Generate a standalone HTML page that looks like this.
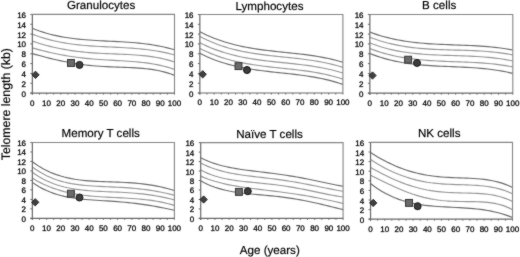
<!DOCTYPE html>
<html><head><meta charset="utf-8"><style>
html,body{margin:0;padding:0;background:#fff;width:520px;height:257px;overflow:hidden}
#w{width:520px;height:257px}
svg{display:block;text-rendering:geometricPrecision;font-family:"Liberation Sans",sans-serif;fill:#111}
text{fill:#000;stroke:rgba(0,0,0,0.6);stroke-width:0.3px;paint-order:stroke}
.t{stroke-width:0.45px}
</style></head><body>
<div id="w"><svg width="520" height="257" viewBox="0 0 520 257">
<defs><filter id="f" x="0" y="0" width="520" height="257" filterUnits="userSpaceOnUse"><feConvolveMatrix order="3" kernelMatrix="1 2 1 2 24 2 1 2 1" divisor="36" edgeMode="duplicate"/></filter></defs>
<rect width="520" height="257" fill="#fff"/><g filter="url(#f)">
<path d="M32.35,28.29 L35.90,29.70 L39.46,30.99 L43.01,32.16 L46.57,33.23 L50.12,34.21 L53.67,35.09 L57.23,35.88 L60.78,36.59 L64.33,37.22 L67.89,37.79 L71.44,38.29 L75.00,38.74 L78.55,39.13 L82.10,39.48 L85.66,39.78 L89.21,40.05 L92.76,40.29 L96.32,40.51 L99.87,40.70 L103.43,40.88 L106.98,41.06 L110.53,41.23 L114.09,41.41 L117.64,41.59 L121.19,41.79 L124.75,42.00 L128.30,42.24 L131.85,42.50 L135.41,42.80 L138.96,43.14 L142.52,43.52 L146.07,43.95 L149.62,44.44 L153.18,44.98 L156.73,45.59 L160.28,46.26 L163.84,47.01 L167.39,47.83 L170.95,48.74 L174.50,49.74" fill="none" stroke="#6a6a6a" stroke-width="1.15"/>
<path d="M32.35,34.14 L35.90,35.49 L39.46,36.73 L43.01,37.87 L46.57,38.92 L50.12,39.88 L53.67,40.75 L57.23,41.54 L60.78,42.26 L64.33,42.90 L67.89,43.48 L71.44,43.99 L75.00,44.45 L78.55,44.86 L82.10,45.22 L85.66,45.54 L89.21,45.82 L92.76,46.07 L96.32,46.30 L99.87,46.50 L103.43,46.69 L106.98,46.86 L110.53,47.03 L114.09,47.19 L117.64,47.36 L121.19,47.54 L124.75,47.74 L128.30,47.95 L131.85,48.19 L135.41,48.46 L138.96,48.76 L142.52,49.11 L146.07,49.50 L149.62,49.95 L153.18,50.45 L156.73,51.01 L160.28,51.65 L163.84,52.36 L167.39,53.15 L170.95,54.02 L174.50,54.99" fill="none" stroke="#959595" stroke-width="1.15"/>
<path d="M32.35,41.13 L35.90,42.31 L39.46,43.43 L43.01,44.48 L46.57,45.47 L50.12,46.39 L53.67,47.24 L57.23,48.03 L60.78,48.75 L64.33,49.42 L67.89,50.03 L71.44,50.57 L75.00,51.07 L78.55,51.51 L82.10,51.91 L85.66,52.26 L89.21,52.56 L92.76,52.83 L96.32,53.07 L99.87,53.28 L103.43,53.47 L106.98,53.63 L110.53,53.78 L114.09,53.93 L117.64,54.07 L121.19,54.22 L124.75,54.37 L128.30,54.55 L131.85,54.75 L135.41,54.98 L138.96,55.25 L142.52,55.56 L146.07,55.94 L149.62,56.38 L153.18,56.89 L156.73,57.48 L160.28,58.16 L163.84,58.94 L167.39,59.84 L170.95,60.85 L174.50,62.00" fill="none" stroke="#959595" stroke-width="1.15"/>
<path d="M32.35,47.83 L35.90,48.86 L39.46,49.85 L43.01,50.79 L46.57,51.68 L50.12,52.52 L53.67,53.31 L57.23,54.05 L60.78,54.75 L64.33,55.39 L67.89,55.99 L71.44,56.54 L75.00,57.04 L78.55,57.50 L82.10,57.92 L85.66,58.31 L89.21,58.65 L92.76,58.97 L96.32,59.25 L99.87,59.51 L103.43,59.75 L106.98,59.97 L110.53,60.18 L114.09,60.39 L117.64,60.59 L121.19,60.80 L124.75,61.01 L128.30,61.25 L131.85,61.51 L135.41,61.80 L138.96,62.13 L142.52,62.50 L146.07,62.93 L149.62,63.42 L153.18,63.98 L156.73,64.62 L160.28,65.36 L163.84,66.19 L167.39,67.13 L170.95,68.19 L174.50,69.38" fill="none" stroke="#959595" stroke-width="1.15"/>
<path d="M32.35,53.62 L35.90,54.60 L39.46,55.57 L43.01,56.52 L46.57,57.45 L50.12,58.35 L53.67,59.21 L57.23,60.04 L60.78,60.82 L64.33,61.56 L67.89,62.25 L71.44,62.90 L75.00,63.49 L78.55,64.03 L82.10,64.52 L85.66,64.96 L89.21,65.35 L92.76,65.70 L96.32,66.00 L99.87,66.26 L103.43,66.48 L106.98,66.68 L110.53,66.85 L114.09,67.00 L117.64,67.13 L121.19,67.26 L124.75,67.39 L128.30,67.53 L131.85,67.69 L135.41,67.88 L138.96,68.11 L142.52,68.39 L146.07,68.73 L149.62,69.14 L153.18,69.65 L156.73,70.26 L160.28,70.98 L163.84,71.83 L167.39,72.83 L170.95,74.00 L174.50,75.34" fill="none" stroke="#6a6a6a" stroke-width="1.15"/>
<path d="M32.35,14.4 H174.5 V93.1" fill="none" stroke="#858585" stroke-width="1.1"/>
<path d="M32.35,14.4 V94.6 M30.35,93.1 H174.5" fill="none" stroke="#686868" stroke-width="1.2"/>
<path d="M30.35,93.10 H32.35 M30.35,83.26 H32.35 M30.35,73.42 H32.35 M30.35,63.59 H32.35 M30.35,53.75 H32.35 M30.35,43.91 H32.35 M30.35,34.08 H32.35 M30.35,24.24 H32.35 M30.35,14.40 H32.35 M32.35,93.1 V94.6 M39.46,93.1 V94.6 M46.56,93.1 V94.6 M53.67,93.1 V94.6 M60.78,93.1 V94.6 M67.89,93.1 V94.6 M75.00,93.1 V94.6 M82.10,93.1 V94.6 M89.21,93.1 V94.6 M96.32,93.1 V94.6 M103.43,93.1 V94.6 M110.53,93.1 V94.6 M117.64,93.1 V94.6 M124.75,93.1 V94.6 M131.86,93.1 V94.6 M138.96,93.1 V94.6 M146.07,93.1 V94.6 M153.18,93.1 V94.6 M160.29,93.1 V94.6 M167.39,93.1 V94.6 M174.50,93.1 V94.6" fill="none" stroke="#686868" stroke-width="1"/>
<text x="26.05" y="96.60" class="t" text-anchor="end" font-size="8.0">0</text>
<text x="26.05" y="86.76" class="t" text-anchor="end" font-size="8.0">2</text>
<text x="26.05" y="76.92" class="t" text-anchor="end" font-size="8.0">4</text>
<text x="26.05" y="67.09" class="t" text-anchor="end" font-size="8.0">6</text>
<text x="26.05" y="57.25" class="t" text-anchor="end" font-size="8.0">8</text>
<text x="26.05" y="47.41" class="t" text-anchor="end" font-size="8.0">10</text>
<text x="26.05" y="37.58" class="t" text-anchor="end" font-size="8.0">12</text>
<text x="26.05" y="27.74" class="t" text-anchor="end" font-size="8.0">14</text>
<text x="26.05" y="17.90" class="t" text-anchor="end" font-size="8.0">16</text>
<text x="32.35" y="105.50" class="t" text-anchor="middle" font-size="8.0">0</text>
<text x="46.56" y="105.50" class="t" text-anchor="middle" font-size="8.0">10</text>
<text x="60.78" y="105.50" class="t" text-anchor="middle" font-size="8.0">20</text>
<text x="75.00" y="105.50" class="t" text-anchor="middle" font-size="8.0">30</text>
<text x="89.21" y="105.50" class="t" text-anchor="middle" font-size="8.0">40</text>
<text x="103.43" y="105.50" class="t" text-anchor="middle" font-size="8.0">50</text>
<text x="117.64" y="105.50" class="t" text-anchor="middle" font-size="8.0">60</text>
<text x="131.86" y="105.50" class="t" text-anchor="middle" font-size="8.0">70</text>
<text x="146.07" y="105.50" class="t" text-anchor="middle" font-size="8.0">80</text>
<text x="160.29" y="105.50" class="t" text-anchor="middle" font-size="8.0">90</text>
<text x="174.50" y="105.50" class="t" text-anchor="middle" font-size="8.0">100</text>
<text x="101.10" y="9.40" text-anchor="middle" font-size="11.6">Granulocytes</text>
<path d="M31.9,74.8 L35.5,71.2 L39.1,74.8 L35.5,78.39999999999999Z" fill="#404040" stroke="#1a1a1a" stroke-width="1"/>
<rect x="67.55" y="59.55" width="6.9" height="6.9" fill="#6a6a6a" stroke="#333" stroke-width="1"/>
<circle cx="79.5" cy="64.9" r="3.5" fill="#3c3c3c" stroke="#151515" stroke-width="1"/>
<path d="M199.85,31.67 L203.43,33.48 L207.00,35.17 L210.58,36.75 L214.16,38.21 L217.73,39.57 L221.31,40.82 L224.88,41.99 L228.46,43.06 L232.04,44.05 L235.61,44.96 L239.19,45.80 L242.76,46.57 L246.34,47.27 L249.92,47.92 L253.49,48.52 L257.07,49.07 L260.65,49.58 L264.22,50.06 L267.80,50.50 L271.38,50.92 L274.95,51.32 L278.53,51.71 L282.10,52.08 L285.68,52.45 L289.26,52.83 L292.83,53.21 L296.41,53.60 L299.98,54.01 L303.56,54.44 L307.14,54.90 L310.71,55.40 L314.29,55.93 L317.87,56.51 L321.44,57.13 L325.02,57.82 L328.59,58.56 L332.17,59.37 L335.75,60.25 L339.32,61.20 L342.90,62.24" fill="none" stroke="#6a6a6a" stroke-width="1.15"/>
<path d="M199.85,36.42 L203.43,38.26 L207.00,39.98 L210.58,41.57 L214.16,43.05 L217.73,44.42 L221.31,45.69 L224.88,46.86 L228.46,47.94 L232.04,48.93 L235.61,49.84 L239.19,50.68 L242.76,51.44 L246.34,52.15 L249.92,52.79 L253.49,53.38 L257.07,53.93 L260.65,54.43 L264.22,54.89 L267.80,55.33 L271.38,55.74 L274.95,56.13 L278.53,56.51 L282.10,56.88 L285.68,57.25 L289.26,57.62 L292.83,58.00 L296.41,58.39 L299.98,58.80 L303.56,59.24 L307.14,59.71 L310.71,60.21 L314.29,60.76 L317.87,61.36 L321.44,62.01 L325.02,62.72 L328.59,63.49 L332.17,64.33 L335.75,65.25 L339.32,66.25 L342.90,67.33" fill="none" stroke="#959595" stroke-width="1.15"/>
<path d="M199.85,42.73 L203.43,44.49 L207.00,46.14 L210.58,47.67 L214.16,49.09 L217.73,50.41 L221.31,51.63 L224.88,52.76 L228.46,53.80 L232.04,54.76 L235.61,55.64 L239.19,56.45 L242.76,57.20 L246.34,57.88 L249.92,58.51 L253.49,59.09 L257.07,59.62 L260.65,60.12 L264.22,60.58 L267.80,61.01 L271.38,61.42 L274.95,61.81 L278.53,62.19 L282.10,62.56 L285.68,62.94 L289.26,63.31 L292.83,63.69 L296.41,64.09 L299.98,64.51 L303.56,64.95 L307.14,65.43 L310.71,65.94 L314.29,66.49 L317.87,67.09 L321.44,67.73 L325.02,68.44 L328.59,69.21 L332.17,70.05 L335.75,70.96 L339.32,71.95 L342.90,73.02" fill="none" stroke="#959595" stroke-width="1.15"/>
<path d="M199.85,48.40 L203.43,50.18 L207.00,51.83 L210.58,53.37 L214.16,54.80 L217.73,56.12 L221.31,57.35 L224.88,58.48 L228.46,59.52 L232.04,60.47 L235.61,61.35 L239.19,62.15 L242.76,62.89 L246.34,63.57 L249.92,64.19 L253.49,64.77 L257.07,65.29 L260.65,65.78 L264.22,66.24 L267.80,66.67 L271.38,67.07 L274.95,67.46 L278.53,67.84 L282.10,68.22 L285.68,68.59 L289.26,68.97 L292.83,69.36 L296.41,69.77 L299.98,70.20 L303.56,70.66 L307.14,71.15 L310.71,71.68 L314.29,72.26 L317.87,72.89 L321.44,73.57 L325.02,74.31 L328.59,75.13 L332.17,76.01 L335.75,76.97 L339.32,78.02 L342.90,79.16" fill="none" stroke="#959595" stroke-width="1.15"/>
<path d="M199.85,53.33 L203.43,55.10 L207.00,56.74 L210.58,58.26 L214.16,59.68 L217.73,60.98 L221.31,62.19 L224.88,63.31 L228.46,64.34 L232.04,65.28 L235.61,66.15 L239.19,66.95 L242.76,67.68 L246.34,68.35 L249.92,68.97 L253.49,69.54 L257.07,70.06 L260.65,70.55 L264.22,71.01 L267.80,71.44 L271.38,71.85 L274.95,72.24 L278.53,72.62 L282.10,73.00 L285.68,73.39 L289.26,73.78 L292.83,74.18 L296.41,74.60 L299.98,75.05 L303.56,75.53 L307.14,76.04 L310.71,76.59 L314.29,77.19 L317.87,77.84 L321.44,78.55 L325.02,79.33 L328.59,80.17 L332.17,81.09 L335.75,82.09 L339.32,83.18 L342.90,84.35" fill="none" stroke="#6a6a6a" stroke-width="1.15"/>
<path d="M199.85,14.5 H342.9 V93.0" fill="none" stroke="#858585" stroke-width="1.1"/>
<path d="M199.85,14.5 V94.5 M197.85,93.0 H342.9" fill="none" stroke="#686868" stroke-width="1.2"/>
<path d="M197.85,93.00 H199.85 M197.85,83.19 H199.85 M197.85,73.38 H199.85 M197.85,63.56 H199.85 M197.85,53.75 H199.85 M197.85,43.94 H199.85 M197.85,34.12 H199.85 M197.85,24.31 H199.85 M197.85,14.50 H199.85 M199.85,93.0 V94.5 M207.00,93.0 V94.5 M214.16,93.0 V94.5 M221.31,93.0 V94.5 M228.46,93.0 V94.5 M235.61,93.0 V94.5 M242.76,93.0 V94.5 M249.92,93.0 V94.5 M257.07,93.0 V94.5 M264.22,93.0 V94.5 M271.38,93.0 V94.5 M278.53,93.0 V94.5 M285.68,93.0 V94.5 M292.83,93.0 V94.5 M299.99,93.0 V94.5 M307.14,93.0 V94.5 M314.29,93.0 V94.5 M321.44,93.0 V94.5 M328.59,93.0 V94.5 M335.75,93.0 V94.5 M342.90,93.0 V94.5" fill="none" stroke="#686868" stroke-width="1"/>
<text x="193.55" y="96.50" class="t" text-anchor="end" font-size="8.0">0</text>
<text x="193.55" y="86.69" class="t" text-anchor="end" font-size="8.0">2</text>
<text x="193.55" y="76.88" class="t" text-anchor="end" font-size="8.0">4</text>
<text x="193.55" y="67.06" class="t" text-anchor="end" font-size="8.0">6</text>
<text x="193.55" y="57.25" class="t" text-anchor="end" font-size="8.0">8</text>
<text x="193.55" y="47.44" class="t" text-anchor="end" font-size="8.0">10</text>
<text x="193.55" y="37.62" class="t" text-anchor="end" font-size="8.0">12</text>
<text x="193.55" y="27.81" class="t" text-anchor="end" font-size="8.0">14</text>
<text x="193.55" y="18.00" class="t" text-anchor="end" font-size="8.0">16</text>
<text x="199.85" y="105.40" class="t" text-anchor="middle" font-size="8.0">0</text>
<text x="214.16" y="105.40" class="t" text-anchor="middle" font-size="8.0">10</text>
<text x="228.46" y="105.40" class="t" text-anchor="middle" font-size="8.0">20</text>
<text x="242.76" y="105.40" class="t" text-anchor="middle" font-size="8.0">30</text>
<text x="257.07" y="105.40" class="t" text-anchor="middle" font-size="8.0">40</text>
<text x="271.38" y="105.40" class="t" text-anchor="middle" font-size="8.0">50</text>
<text x="285.68" y="105.40" class="t" text-anchor="middle" font-size="8.0">60</text>
<text x="299.99" y="105.40" class="t" text-anchor="middle" font-size="8.0">70</text>
<text x="314.29" y="105.40" class="t" text-anchor="middle" font-size="8.0">80</text>
<text x="328.59" y="105.40" class="t" text-anchor="middle" font-size="8.0">90</text>
<text x="342.90" y="105.40" class="t" text-anchor="middle" font-size="8.0">100</text>
<text x="269.50" y="9.50" text-anchor="middle" font-size="11.6">Lymphocytes</text>
<path d="M199.1,74.3 L202.7,70.7 L206.29999999999998,74.3 L202.7,77.89999999999999Z" fill="#404040" stroke="#1a1a1a" stroke-width="1"/>
<rect x="235.05" y="62.65" width="6.9" height="6.9" fill="#6a6a6a" stroke="#333" stroke-width="1"/>
<circle cx="247" cy="70" r="3.5" fill="#3c3c3c" stroke="#151515" stroke-width="1"/>
<path d="M369.85,32.08 L373.42,33.39 L377.00,34.60 L380.57,35.72 L384.15,36.74 L387.72,37.68 L391.29,38.54 L394.87,39.32 L398.44,40.03 L402.01,40.67 L405.59,41.24 L409.16,41.75 L412.74,42.21 L416.31,42.62 L419.88,42.98 L423.46,43.30 L427.03,43.58 L430.60,43.82 L434.18,44.04 L437.75,44.23 L441.32,44.40 L444.90,44.55 L448.47,44.69 L452.05,44.82 L455.62,44.95 L459.19,45.08 L462.77,45.21 L466.34,45.35 L469.91,45.51 L473.49,45.68 L477.06,45.88 L480.64,46.10 L484.21,46.36 L487.78,46.65 L491.36,46.98 L494.93,47.35 L498.50,47.77 L502.08,48.24 L505.65,48.78 L509.23,49.37 L512.80,50.02" fill="none" stroke="#6a6a6a" stroke-width="1.15"/>
<path d="M369.85,37.17 L373.42,38.54 L377.00,39.80 L380.57,40.96 L384.15,42.02 L387.72,42.99 L391.29,43.87 L394.87,44.67 L398.44,45.39 L402.01,46.04 L405.59,46.62 L409.16,47.13 L412.74,47.59 L416.31,47.99 L419.88,48.34 L423.46,48.64 L427.03,48.90 L430.60,49.13 L434.18,49.32 L437.75,49.49 L441.32,49.63 L444.90,49.76 L448.47,49.87 L452.05,49.98 L455.62,50.07 L459.19,50.17 L462.77,50.28 L466.34,50.39 L469.91,50.52 L473.49,50.67 L477.06,50.84 L480.64,51.05 L484.21,51.28 L487.78,51.55 L491.36,51.86 L494.93,52.22 L498.50,52.63 L502.08,53.10 L505.65,53.63 L509.23,54.22 L512.80,54.89" fill="none" stroke="#959595" stroke-width="1.15"/>
<path d="M369.85,42.97 L373.42,44.32 L377.00,45.57 L380.57,46.71 L384.15,47.76 L387.72,48.71 L391.29,49.58 L394.87,50.37 L398.44,51.07 L402.01,51.70 L405.59,52.27 L409.16,52.77 L412.74,53.21 L416.31,53.60 L419.88,53.94 L423.46,54.23 L427.03,54.48 L430.60,54.70 L434.18,54.89 L437.75,55.05 L441.32,55.20 L444.90,55.32 L448.47,55.44 L452.05,55.54 L455.62,55.65 L459.19,55.76 L462.77,55.88 L466.34,56.00 L469.91,56.15 L473.49,56.32 L477.06,56.52 L480.64,56.74 L484.21,57.01 L487.78,57.31 L491.36,57.66 L494.93,58.06 L498.50,58.52 L502.08,59.03 L505.65,59.62 L509.23,60.27 L512.80,60.99" fill="none" stroke="#959595" stroke-width="1.15"/>
<path d="M369.85,48.58 L373.42,49.91 L377.00,51.15 L380.57,52.29 L384.15,53.33 L387.72,54.29 L391.29,55.17 L394.87,55.96 L398.44,56.69 L402.01,57.34 L405.59,57.92 L409.16,58.45 L412.74,58.92 L416.31,59.34 L419.88,59.70 L423.46,60.03 L427.03,60.32 L430.60,60.57 L434.18,60.79 L437.75,60.98 L441.32,61.16 L444.90,61.31 L448.47,61.46 L452.05,61.59 L455.62,61.73 L459.19,61.86 L462.77,62.00 L466.34,62.14 L469.91,62.30 L473.49,62.48 L477.06,62.68 L480.64,62.91 L484.21,63.17 L487.78,63.47 L491.36,63.80 L494.93,64.18 L498.50,64.61 L502.08,65.10 L505.65,65.64 L509.23,66.24 L512.80,66.91" fill="none" stroke="#959595" stroke-width="1.15"/>
<path d="M369.85,53.48 L373.42,54.86 L377.00,56.14 L380.57,57.31 L384.15,58.39 L387.72,59.37 L391.29,60.26 L394.87,61.07 L398.44,61.80 L402.01,62.46 L405.59,63.04 L409.16,63.57 L412.74,64.03 L416.31,64.44 L419.88,64.81 L423.46,65.12 L427.03,65.40 L430.60,65.65 L434.18,65.87 L437.75,66.06 L441.32,66.23 L444.90,66.40 L448.47,66.55 L452.05,66.69 L455.62,66.84 L459.19,67.00 L462.77,67.16 L466.34,67.34 L469.91,67.55 L473.49,67.77 L477.06,68.03 L480.64,68.33 L484.21,68.66 L487.78,69.04 L491.36,69.48 L494.93,69.96 L498.50,70.51 L502.08,71.13 L505.65,71.81 L509.23,72.57 L512.80,73.41" fill="none" stroke="#6a6a6a" stroke-width="1.15"/>
<path d="M369.85,14.45 H512.8 V93.15" fill="none" stroke="#858585" stroke-width="1.1"/>
<path d="M369.85,14.45 V94.65 M367.85,93.15 H512.8" fill="none" stroke="#686868" stroke-width="1.2"/>
<path d="M367.85,93.15 H369.85 M367.85,83.31 H369.85 M367.85,73.48 H369.85 M367.85,63.64 H369.85 M367.85,53.80 H369.85 M367.85,43.96 H369.85 M367.85,34.12 H369.85 M367.85,24.29 H369.85 M367.85,14.45 H369.85 M369.85,93.15 V94.65 M377.00,93.15 V94.65 M384.15,93.15 V94.65 M391.29,93.15 V94.65 M398.44,93.15 V94.65 M405.59,93.15 V94.65 M412.74,93.15 V94.65 M419.88,93.15 V94.65 M427.03,93.15 V94.65 M434.18,93.15 V94.65 M441.32,93.15 V94.65 M448.47,93.15 V94.65 M455.62,93.15 V94.65 M462.77,93.15 V94.65 M469.91,93.15 V94.65 M477.06,93.15 V94.65 M484.21,93.15 V94.65 M491.36,93.15 V94.65 M498.50,93.15 V94.65 M505.65,93.15 V94.65 M512.80,93.15 V94.65" fill="none" stroke="#686868" stroke-width="1"/>
<text x="363.55" y="96.65" class="t" text-anchor="end" font-size="8.0">0</text>
<text x="363.55" y="86.81" class="t" text-anchor="end" font-size="8.0">2</text>
<text x="363.55" y="76.98" class="t" text-anchor="end" font-size="8.0">4</text>
<text x="363.55" y="67.14" class="t" text-anchor="end" font-size="8.0">6</text>
<text x="363.55" y="57.30" class="t" text-anchor="end" font-size="8.0">8</text>
<text x="363.55" y="47.46" class="t" text-anchor="end" font-size="8.0">10</text>
<text x="363.55" y="37.62" class="t" text-anchor="end" font-size="8.0">12</text>
<text x="363.55" y="27.79" class="t" text-anchor="end" font-size="8.0">14</text>
<text x="363.55" y="17.95" class="t" text-anchor="end" font-size="8.0">16</text>
<text x="369.85" y="105.55" class="t" text-anchor="middle" font-size="8.0">0</text>
<text x="384.15" y="105.55" class="t" text-anchor="middle" font-size="8.0">10</text>
<text x="398.44" y="105.55" class="t" text-anchor="middle" font-size="8.0">20</text>
<text x="412.74" y="105.55" class="t" text-anchor="middle" font-size="8.0">30</text>
<text x="427.03" y="105.55" class="t" text-anchor="middle" font-size="8.0">40</text>
<text x="441.32" y="105.55" class="t" text-anchor="middle" font-size="8.0">50</text>
<text x="455.62" y="105.55" class="t" text-anchor="middle" font-size="8.0">60</text>
<text x="469.91" y="105.55" class="t" text-anchor="middle" font-size="8.0">70</text>
<text x="484.21" y="105.55" class="t" text-anchor="middle" font-size="8.0">80</text>
<text x="498.50" y="105.55" class="t" text-anchor="middle" font-size="8.0">90</text>
<text x="512.80" y="105.55" class="t" text-anchor="middle" font-size="8.0">100</text>
<text x="439.20" y="9.45" text-anchor="middle" font-size="11.6">B cells</text>
<path d="M368.9,75.5 L372.5,71.9 L376.1,75.5 L372.5,79.1Z" fill="#404040" stroke="#1a1a1a" stroke-width="1"/>
<rect x="404.65" y="56.25" width="6.9" height="6.9" fill="#6a6a6a" stroke="#333" stroke-width="1"/>
<circle cx="417" cy="62.9" r="3.5" fill="#3c3c3c" stroke="#151515" stroke-width="1"/>
<path d="M32.35,161.78 L35.90,164.32 L39.45,166.61 L43.00,168.68 L46.56,170.53 L50.11,172.17 L53.66,173.63 L57.21,174.92 L60.76,176.05 L64.31,177.04 L67.86,177.89 L71.41,178.62 L74.97,179.24 L78.52,179.76 L82.07,180.20 L85.62,180.57 L89.17,180.87 L92.72,181.11 L96.27,181.32 L99.82,181.49 L103.38,181.64 L106.93,181.77 L110.48,181.89 L114.03,182.01 L117.58,182.15 L121.13,182.30 L124.68,182.47 L128.23,182.67 L131.78,182.91 L135.34,183.19 L138.89,183.52 L142.44,183.91 L145.99,184.35 L149.54,184.86 L153.09,185.43 L156.64,186.07 L160.20,186.79 L163.75,187.59 L167.30,188.47 L170.85,189.43 L174.40,190.48" fill="none" stroke="#6a6a6a" stroke-width="1.15"/>
<path d="M32.35,166.99 L35.90,169.53 L39.45,171.81 L43.00,173.86 L46.56,175.68 L50.11,177.30 L53.66,178.74 L57.21,179.99 L60.76,181.09 L64.31,182.05 L67.86,182.87 L71.41,183.58 L74.97,184.18 L78.52,184.69 L82.07,185.12 L85.62,185.48 L89.17,185.78 L92.72,186.03 L96.27,186.25 L99.82,186.44 L103.38,186.61 L106.93,186.77 L110.48,186.92 L114.03,187.08 L117.58,187.25 L121.13,187.44 L124.68,187.65 L128.23,187.89 L131.78,188.16 L135.34,188.48 L138.89,188.83 L142.44,189.24 L145.99,189.69 L149.54,190.19 L153.09,190.75 L156.64,191.36 L160.20,192.03 L163.75,192.76 L167.30,193.54 L170.85,194.38 L174.40,195.28" fill="none" stroke="#959595" stroke-width="1.15"/>
<path d="M32.35,172.30 L35.90,174.74 L39.45,176.94 L43.00,178.93 L46.56,180.70 L50.11,182.28 L53.66,183.69 L57.21,184.93 L60.76,186.01 L64.31,186.96 L67.86,187.78 L71.41,188.49 L74.97,189.10 L78.52,189.61 L82.07,190.05 L85.62,190.42 L89.17,190.72 L92.72,190.98 L96.27,191.20 L99.82,191.38 L103.38,191.55 L106.93,191.70 L110.48,191.84 L114.03,191.99 L117.58,192.14 L121.13,192.30 L124.68,192.49 L128.23,192.71 L131.78,192.95 L135.34,193.24 L138.89,193.56 L142.44,193.93 L145.99,194.35 L149.54,194.83 L153.09,195.36 L156.64,195.95 L160.20,196.60 L163.75,197.32 L167.30,198.10 L170.85,198.95 L174.40,199.86" fill="none" stroke="#959595" stroke-width="1.15"/>
<path d="M32.35,178.08 L35.90,180.19 L39.45,182.13 L43.00,183.91 L46.56,185.53 L50.11,187.01 L53.66,188.35 L57.21,189.56 L60.76,190.65 L64.31,191.62 L67.86,192.49 L71.41,193.26 L74.97,193.93 L78.52,194.53 L82.07,195.05 L85.62,195.50 L89.17,195.88 L92.72,196.22 L96.27,196.51 L99.82,196.76 L103.38,196.98 L106.93,197.18 L110.48,197.36 L114.03,197.52 L117.58,197.69 L121.13,197.86 L124.68,198.04 L128.23,198.24 L131.78,198.46 L135.34,198.71 L138.89,199.00 L142.44,199.33 L145.99,199.72 L149.54,200.16 L153.09,200.67 L156.64,201.24 L160.20,201.89 L163.75,202.63 L167.30,203.45 L170.85,204.37 L174.40,205.38" fill="none" stroke="#959595" stroke-width="1.15"/>
<path d="M32.35,182.37 L35.90,184.79 L39.45,186.95 L43.00,188.87 L46.56,190.56 L50.11,192.06 L53.66,193.37 L57.21,194.51 L60.76,195.51 L64.31,196.37 L67.86,197.10 L71.41,197.74 L74.97,198.28 L78.52,198.74 L82.07,199.14 L85.62,199.48 L89.17,199.77 L92.72,200.04 L96.27,200.28 L99.82,200.50 L103.38,200.72 L106.93,200.94 L110.48,201.17 L114.03,201.41 L117.58,201.67 L121.13,201.95 L124.68,202.26 L128.23,202.61 L131.78,202.99 L135.34,203.40 L138.89,203.85 L142.44,204.35 L145.99,204.88 L149.54,205.44 L153.09,206.05 L156.64,206.69 L160.20,207.36 L163.75,208.06 L167.30,208.78 L170.85,209.52 L174.40,210.28" fill="none" stroke="#6a6a6a" stroke-width="1.15"/>
<path d="M32.35,142.45 H174.4 V218.35" fill="none" stroke="#858585" stroke-width="1.1"/>
<path d="M32.35,142.45 V219.85 M30.35,218.35 H174.4" fill="none" stroke="#686868" stroke-width="1.2"/>
<path d="M30.35,218.35 H32.35 M30.35,208.86 H32.35 M30.35,199.38 H32.35 M30.35,189.89 H32.35 M30.35,180.40 H32.35 M30.35,170.91 H32.35 M30.35,161.42 H32.35 M30.35,151.94 H32.35 M30.35,142.45 H32.35 M32.35,218.35 V219.85 M39.45,218.35 V219.85 M46.56,218.35 V219.85 M53.66,218.35 V219.85 M60.76,218.35 V219.85 M67.86,218.35 V219.85 M74.97,218.35 V219.85 M82.07,218.35 V219.85 M89.17,218.35 V219.85 M96.27,218.35 V219.85 M103.38,218.35 V219.85 M110.48,218.35 V219.85 M117.58,218.35 V219.85 M124.68,218.35 V219.85 M131.79,218.35 V219.85 M138.89,218.35 V219.85 M145.99,218.35 V219.85 M153.09,218.35 V219.85 M160.19,218.35 V219.85 M167.30,218.35 V219.85 M174.40,218.35 V219.85" fill="none" stroke="#686868" stroke-width="1"/>
<text x="26.05" y="221.85" class="t" text-anchor="end" font-size="8.0">0</text>
<text x="26.05" y="212.36" class="t" text-anchor="end" font-size="8.0">2</text>
<text x="26.05" y="202.88" class="t" text-anchor="end" font-size="8.0">4</text>
<text x="26.05" y="193.39" class="t" text-anchor="end" font-size="8.0">6</text>
<text x="26.05" y="183.90" class="t" text-anchor="end" font-size="8.0">8</text>
<text x="26.05" y="174.41" class="t" text-anchor="end" font-size="8.0">10</text>
<text x="26.05" y="164.92" class="t" text-anchor="end" font-size="8.0">12</text>
<text x="26.05" y="155.44" class="t" text-anchor="end" font-size="8.0">14</text>
<text x="26.05" y="145.95" class="t" text-anchor="end" font-size="8.0">16</text>
<text x="32.35" y="231.25" class="t" text-anchor="middle" font-size="8.0">0</text>
<text x="46.56" y="231.25" class="t" text-anchor="middle" font-size="8.0">10</text>
<text x="60.76" y="231.25" class="t" text-anchor="middle" font-size="8.0">20</text>
<text x="74.97" y="231.25" class="t" text-anchor="middle" font-size="8.0">30</text>
<text x="89.17" y="231.25" class="t" text-anchor="middle" font-size="8.0">40</text>
<text x="103.38" y="231.25" class="t" text-anchor="middle" font-size="8.0">50</text>
<text x="117.58" y="231.25" class="t" text-anchor="middle" font-size="8.0">60</text>
<text x="131.79" y="231.25" class="t" text-anchor="middle" font-size="8.0">70</text>
<text x="145.99" y="231.25" class="t" text-anchor="middle" font-size="8.0">80</text>
<text x="160.19" y="231.25" class="t" text-anchor="middle" font-size="8.0">90</text>
<text x="174.40" y="231.25" class="t" text-anchor="middle" font-size="8.0">100</text>
<text x="100.70" y="137.35" text-anchor="middle" font-size="11.6">Memory T cells</text>
<path d="M31.6,202.3 L35.2,198.70000000000002 L38.800000000000004,202.3 L35.2,205.9Z" fill="#404040" stroke="#1a1a1a" stroke-width="1"/>
<rect x="67.45" y="190.25" width="6.9" height="6.9" fill="#6a6a6a" stroke="#333" stroke-width="1"/>
<circle cx="79.5" cy="197.5" r="3.5" fill="#3c3c3c" stroke="#151515" stroke-width="1"/>
<path d="M200.70,157.80 L204.26,159.52 L207.82,161.05 L211.38,162.42 L214.94,163.64 L218.50,164.73 L222.06,165.70 L225.62,166.56 L229.18,167.33 L232.74,168.02 L236.30,168.64 L239.86,169.21 L243.42,169.73 L246.98,170.21 L250.54,170.67 L254.10,171.11 L257.66,171.54 L261.22,171.96 L264.78,172.39 L268.34,172.82 L271.90,173.27 L275.46,173.74 L279.02,174.22 L282.58,174.73 L286.14,175.27 L289.70,175.83 L293.26,176.42 L296.82,177.03 L300.38,177.68 L303.94,178.35 L307.50,179.04 L311.06,179.75 L314.62,180.48 L318.18,181.23 L321.74,181.98 L325.30,182.73 L328.86,183.48 L332.42,184.22 L335.98,184.94 L339.54,185.63 L343.10,186.29" fill="none" stroke="#6a6a6a" stroke-width="1.15"/>
<path d="M200.70,162.99 L204.26,164.78 L207.82,166.37 L211.38,167.79 L214.94,169.05 L218.50,170.16 L222.06,171.15 L225.62,172.03 L229.18,172.82 L232.74,173.52 L236.30,174.14 L239.86,174.71 L243.42,175.23 L246.98,175.71 L250.54,176.16 L254.10,176.59 L257.66,177.01 L261.22,177.43 L264.78,177.85 L268.34,178.27 L271.90,178.71 L275.46,179.17 L279.02,179.64 L282.58,180.14 L286.14,180.67 L289.70,181.22 L293.26,181.80 L296.82,182.41 L300.38,183.04 L303.94,183.70 L307.50,184.38 L311.06,185.08 L314.62,185.79 L318.18,186.51 L321.74,187.24 L325.30,187.97 L328.86,188.68 L332.42,189.38 L335.98,190.06 L339.54,190.70 L343.10,191.29" fill="none" stroke="#959595" stroke-width="1.15"/>
<path d="M200.70,169.99 L204.26,171.80 L207.82,173.38 L211.38,174.77 L214.94,175.98 L218.50,177.03 L222.06,177.95 L225.62,178.74 L229.18,179.43 L232.74,180.03 L236.30,180.56 L239.86,181.02 L243.42,181.45 L246.98,181.83 L250.54,182.19 L254.10,182.54 L257.66,182.89 L261.22,183.24 L264.78,183.59 L268.34,183.97 L271.90,184.37 L275.46,184.80 L279.02,185.26 L282.58,185.75 L286.14,186.27 L289.70,186.84 L293.26,187.43 L296.82,188.06 L300.38,188.72 L303.94,189.41 L307.50,190.13 L311.06,190.86 L314.62,191.61 L318.18,192.36 L321.74,193.11 L325.30,193.85 L328.86,194.57 L332.42,195.26 L335.98,195.90 L339.54,196.49 L343.10,197.01" fill="none" stroke="#959595" stroke-width="1.15"/>
<path d="M200.70,176.12 L204.26,177.60 L207.82,178.95 L211.38,180.18 L214.94,181.29 L218.50,182.31 L222.06,183.23 L225.62,184.07 L229.18,184.83 L232.74,185.52 L236.30,186.16 L239.86,186.75 L243.42,187.30 L246.98,187.81 L250.54,188.29 L254.10,188.75 L257.66,189.19 L261.22,189.62 L264.78,190.05 L268.34,190.47 L271.90,190.89 L275.46,191.33 L279.02,191.77 L282.58,192.23 L286.14,192.70 L289.70,193.20 L293.26,193.71 L296.82,194.25 L300.38,194.81 L303.94,195.40 L307.50,196.01 L311.06,196.65 L314.62,197.32 L318.18,198.01 L321.74,198.73 L325.30,199.47 L328.86,200.23 L332.42,201.01 L335.98,201.81 L339.54,202.62 L343.10,203.45" fill="none" stroke="#959595" stroke-width="1.15"/>
<path d="M200.70,180.78 L204.26,182.72 L207.82,184.43 L211.38,185.94 L214.94,187.26 L218.50,188.42 L222.06,189.42 L225.62,190.29 L229.18,191.05 L232.74,191.70 L236.30,192.27 L239.86,192.77 L243.42,193.21 L246.98,193.61 L250.54,193.96 L254.10,194.30 L257.66,194.62 L261.22,194.93 L264.78,195.25 L268.34,195.58 L271.90,195.93 L275.46,196.29 L279.02,196.69 L282.58,197.12 L286.14,197.58 L289.70,198.09 L293.26,198.63 L296.82,199.22 L300.38,199.84 L303.94,200.51 L307.50,201.22 L311.06,201.96 L314.62,202.74 L318.18,203.55 L321.74,204.39 L325.30,205.25 L328.86,206.12 L332.42,207.00 L335.98,207.88 L339.54,208.75 L343.10,209.60" fill="none" stroke="#6a6a6a" stroke-width="1.15"/>
<path d="M200.7,142.6 H343.1 V218.4" fill="none" stroke="#858585" stroke-width="1.1"/>
<path d="M200.7,142.6 V219.9 M198.7,218.4 H343.1" fill="none" stroke="#686868" stroke-width="1.2"/>
<path d="M198.7,218.40 H200.7 M198.7,208.93 H200.7 M198.7,199.45 H200.7 M198.7,189.97 H200.7 M198.7,180.50 H200.7 M198.7,171.03 H200.7 M198.7,161.55 H200.7 M198.7,152.07 H200.7 M198.7,142.60 H200.7 M200.70,218.4 V219.9 M207.82,218.4 V219.9 M214.94,218.4 V219.9 M222.06,218.4 V219.9 M229.18,218.4 V219.9 M236.30,218.4 V219.9 M243.42,218.4 V219.9 M250.54,218.4 V219.9 M257.66,218.4 V219.9 M264.78,218.4 V219.9 M271.90,218.4 V219.9 M279.02,218.4 V219.9 M286.14,218.4 V219.9 M293.26,218.4 V219.9 M300.38,218.4 V219.9 M307.50,218.4 V219.9 M314.62,218.4 V219.9 M321.74,218.4 V219.9 M328.86,218.4 V219.9 M335.98,218.4 V219.9 M343.10,218.4 V219.9" fill="none" stroke="#686868" stroke-width="1"/>
<text x="194.30" y="221.90" class="t" text-anchor="end" font-size="8.0">0</text>
<text x="194.30" y="212.43" class="t" text-anchor="end" font-size="8.0">2</text>
<text x="194.30" y="202.95" class="t" text-anchor="end" font-size="8.0">4</text>
<text x="194.30" y="193.47" class="t" text-anchor="end" font-size="8.0">6</text>
<text x="194.30" y="184.00" class="t" text-anchor="end" font-size="8.0">8</text>
<text x="194.30" y="174.53" class="t" text-anchor="end" font-size="8.0">10</text>
<text x="194.30" y="165.05" class="t" text-anchor="end" font-size="8.0">12</text>
<text x="194.30" y="155.57" class="t" text-anchor="end" font-size="8.0">14</text>
<text x="194.30" y="146.10" class="t" text-anchor="end" font-size="8.0">16</text>
<text x="200.70" y="231.30" class="t" text-anchor="middle" font-size="8.0">0</text>
<text x="214.94" y="231.30" class="t" text-anchor="middle" font-size="8.0">10</text>
<text x="229.18" y="231.30" class="t" text-anchor="middle" font-size="8.0">20</text>
<text x="243.42" y="231.30" class="t" text-anchor="middle" font-size="8.0">30</text>
<text x="257.66" y="231.30" class="t" text-anchor="middle" font-size="8.0">40</text>
<text x="271.90" y="231.30" class="t" text-anchor="middle" font-size="8.0">50</text>
<text x="286.14" y="231.30" class="t" text-anchor="middle" font-size="8.0">60</text>
<text x="300.38" y="231.30" class="t" text-anchor="middle" font-size="8.0">70</text>
<text x="314.62" y="231.30" class="t" text-anchor="middle" font-size="8.0">80</text>
<text x="328.86" y="231.30" class="t" text-anchor="middle" font-size="8.0">90</text>
<text x="343.10" y="231.30" class="t" text-anchor="middle" font-size="8.0">100</text>
<text x="269.50" y="137.50" text-anchor="middle" font-size="11.6">Naïve T cells</text>
<path d="M200.0,199.5 L203.6,195.9 L207.2,199.5 L203.6,203.1Z" fill="#404040" stroke="#1a1a1a" stroke-width="1"/>
<rect x="235.45" y="188.45" width="6.9" height="6.9" fill="#6a6a6a" stroke="#333" stroke-width="1"/>
<circle cx="247.8" cy="191.2" r="3.5" fill="#3c3c3c" stroke="#151515" stroke-width="1"/>
<path d="M370.55,152.61 L374.10,154.82 L377.65,156.93 L381.20,158.94 L384.75,160.85 L388.29,162.64 L391.84,164.33 L395.39,165.91 L398.94,167.38 L402.49,168.73 L406.04,169.98 L409.59,171.11 L413.13,172.14 L416.68,173.06 L420.23,173.88 L423.78,174.61 L427.33,175.24 L430.88,175.78 L434.43,176.24 L437.98,176.63 L441.52,176.95 L445.07,177.22 L448.62,177.43 L452.17,177.61 L455.72,177.76 L459.27,177.89 L462.82,178.02 L466.37,178.15 L469.91,178.30 L473.46,178.49 L477.01,178.72 L480.56,179.02 L484.11,179.40 L487.66,179.88 L491.21,180.47 L494.76,181.20 L498.31,182.08 L501.85,183.13 L505.40,184.37 L508.95,185.82 L512.50,187.51" fill="none" stroke="#6a6a6a" stroke-width="1.15"/>
<path d="M370.55,159.60 L374.10,161.85 L377.65,163.99 L381.20,166.02 L384.75,167.94 L388.29,169.74 L391.84,171.43 L395.39,173.01 L398.94,174.47 L402.49,175.82 L406.04,177.05 L409.59,178.17 L413.13,179.18 L416.68,180.08 L420.23,180.88 L423.78,181.59 L427.33,182.20 L430.88,182.72 L434.43,183.16 L437.98,183.53 L441.52,183.83 L445.07,184.08 L448.62,184.28 L452.17,184.44 L455.72,184.57 L459.27,184.68 L462.82,184.79 L466.37,184.90 L469.91,185.04 L473.46,185.20 L477.01,185.42 L480.56,185.70 L484.11,186.05 L487.66,186.51 L491.21,187.07 L494.76,187.76 L498.31,188.60 L501.85,189.61 L505.40,190.80 L508.95,192.20 L512.50,193.82" fill="none" stroke="#959595" stroke-width="1.15"/>
<path d="M370.55,167.45 L374.10,169.40 L377.65,171.32 L381.20,173.18 L384.75,174.99 L388.29,176.73 L391.84,178.40 L395.39,179.98 L398.94,181.48 L402.49,182.89 L406.04,184.20 L409.59,185.41 L413.13,186.52 L416.68,187.54 L420.23,188.45 L423.78,189.26 L427.33,189.97 L430.88,190.59 L434.43,191.12 L437.98,191.56 L441.52,191.93 L445.07,192.22 L448.62,192.45 L452.17,192.63 L455.72,192.77 L459.27,192.87 L462.82,192.96 L466.37,193.04 L469.91,193.13 L473.46,193.24 L477.01,193.39 L480.56,193.60 L484.11,193.89 L487.66,194.27 L491.21,194.77 L494.76,195.40 L498.31,196.20 L501.85,197.18 L505.40,198.37 L508.95,199.79 L512.50,201.48" fill="none" stroke="#959595" stroke-width="1.15"/>
<path d="M370.55,175.31 L374.10,177.00 L377.65,178.73 L381.20,180.46 L384.75,182.19 L388.29,183.90 L391.84,185.58 L395.39,187.21 L398.94,188.77 L402.49,190.27 L406.04,191.69 L409.59,193.02 L413.13,194.25 L416.68,195.39 L420.23,196.42 L423.78,197.35 L427.33,198.17 L430.88,198.89 L434.43,199.51 L437.98,200.03 L441.52,200.46 L445.07,200.80 L448.62,201.06 L452.17,201.25 L455.72,201.39 L459.27,201.47 L462.82,201.53 L466.37,201.56 L469.91,201.59 L473.46,201.64 L477.01,201.72 L480.56,201.86 L484.11,202.07 L487.66,202.39 L491.21,202.83 L494.76,203.42 L498.31,204.19 L501.85,205.17 L505.40,206.39 L508.95,207.87 L512.50,209.67" fill="none" stroke="#959595" stroke-width="1.15"/>
<path d="M370.55,183.57 L374.10,186.26 L377.65,188.72 L381.20,190.96 L384.75,193.01 L388.29,194.85 L391.84,196.52 L395.39,198.02 L398.94,199.36 L402.49,200.54 L406.04,201.59 L409.59,202.51 L413.13,203.32 L416.68,204.01 L420.23,204.61 L423.78,205.13 L427.33,205.56 L430.88,205.93 L434.43,206.24 L437.98,206.51 L441.52,206.74 L445.07,206.94 L448.62,207.12 L452.17,207.29 L455.72,207.47 L459.27,207.65 L462.82,207.85 L466.37,208.08 L469.91,208.34 L473.46,208.65 L477.01,209.02 L480.56,209.44 L484.11,209.94 L487.66,210.52 L491.21,211.18 L494.76,211.94 L498.31,212.80 L501.85,213.77 L505.40,214.87 L508.95,216.09 L512.50,217.45" fill="none" stroke="#6a6a6a" stroke-width="1.15"/>
<path d="M370.55,142.4 H512.5 V219.2" fill="none" stroke="#858585" stroke-width="1.1"/>
<path d="M370.55,142.4 V220.7 M368.55,219.2 H512.5" fill="none" stroke="#686868" stroke-width="1.2"/>
<path d="M368.55,219.20 H370.55 M368.55,209.60 H370.55 M368.55,200.00 H370.55 M368.55,190.40 H370.55 M368.55,180.80 H370.55 M368.55,171.20 H370.55 M368.55,161.60 H370.55 M368.55,152.00 H370.55 M368.55,142.40 H370.55 M370.55,219.2 V220.7 M377.65,219.2 V220.7 M384.75,219.2 V220.7 M391.84,219.2 V220.7 M398.94,219.2 V220.7 M406.04,219.2 V220.7 M413.13,219.2 V220.7 M420.23,219.2 V220.7 M427.33,219.2 V220.7 M434.43,219.2 V220.7 M441.52,219.2 V220.7 M448.62,219.2 V220.7 M455.72,219.2 V220.7 M462.82,219.2 V220.7 M469.91,219.2 V220.7 M477.01,219.2 V220.7 M484.11,219.2 V220.7 M491.21,219.2 V220.7 M498.31,219.2 V220.7 M505.40,219.2 V220.7 M512.50,219.2 V220.7" fill="none" stroke="#686868" stroke-width="1"/>
<text x="364.25" y="222.70" class="t" text-anchor="end" font-size="8.0">0</text>
<text x="364.25" y="213.10" class="t" text-anchor="end" font-size="8.0">2</text>
<text x="364.25" y="203.50" class="t" text-anchor="end" font-size="8.0">4</text>
<text x="364.25" y="193.90" class="t" text-anchor="end" font-size="8.0">6</text>
<text x="364.25" y="184.30" class="t" text-anchor="end" font-size="8.0">8</text>
<text x="364.25" y="174.70" class="t" text-anchor="end" font-size="8.0">10</text>
<text x="364.25" y="165.10" class="t" text-anchor="end" font-size="8.0">12</text>
<text x="364.25" y="155.50" class="t" text-anchor="end" font-size="8.0">14</text>
<text x="364.25" y="145.90" class="t" text-anchor="end" font-size="8.0">16</text>
<text x="370.55" y="232.10" class="t" text-anchor="middle" font-size="8.0">0</text>
<text x="384.75" y="232.10" class="t" text-anchor="middle" font-size="8.0">10</text>
<text x="398.94" y="232.10" class="t" text-anchor="middle" font-size="8.0">20</text>
<text x="413.13" y="232.10" class="t" text-anchor="middle" font-size="8.0">30</text>
<text x="427.33" y="232.10" class="t" text-anchor="middle" font-size="8.0">40</text>
<text x="441.52" y="232.10" class="t" text-anchor="middle" font-size="8.0">50</text>
<text x="455.72" y="232.10" class="t" text-anchor="middle" font-size="8.0">60</text>
<text x="469.91" y="232.10" class="t" text-anchor="middle" font-size="8.0">70</text>
<text x="484.11" y="232.10" class="t" text-anchor="middle" font-size="8.0">80</text>
<text x="498.31" y="232.10" class="t" text-anchor="middle" font-size="8.0">90</text>
<text x="512.50" y="232.10" class="t" text-anchor="middle" font-size="8.0">100</text>
<text x="439.20" y="137.30" text-anchor="middle" font-size="11.6">NK cells</text>
<path d="M369.59999999999997,202.9 L373.2,199.3 L376.8,202.9 L373.2,206.5Z" fill="#404040" stroke="#1a1a1a" stroke-width="1"/>
<rect x="405.55" y="199.45" width="6.9" height="6.9" fill="#6a6a6a" stroke="#333" stroke-width="1"/>
<circle cx="417.6" cy="206.2" r="3.5" fill="#3c3c3c" stroke="#151515" stroke-width="1"/>
<text transform="translate(9.6,104.2) rotate(-90)" text-anchor="middle" font-size="12.3">Telomere length (kb)</text>
<text x="269.8" y="253.5" text-anchor="middle" font-size="11.6">Age (years)</text>
</g></svg></div>
</body></html>
